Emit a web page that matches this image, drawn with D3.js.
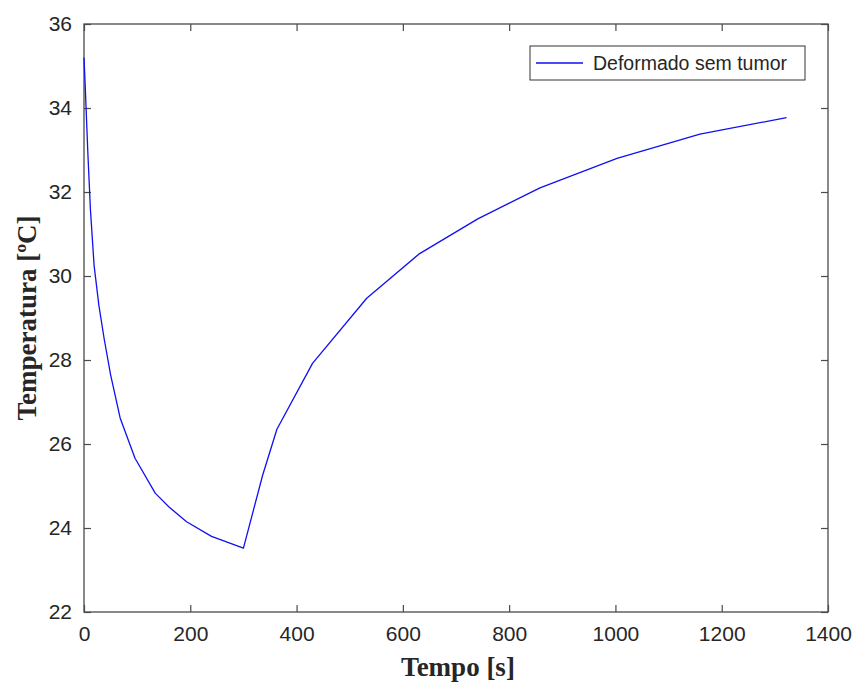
<!DOCTYPE html>
<html>
<head>
<meta charset="utf-8">
<script src="https://cdn.jsdelivr.net/npm/d3@7/dist/d3.min.js"></script>
<style>
  body { margin: 0; background: #fff; }
  svg { display: block; }
</style>
</head>
<body>
<svg id="chart" width="859" height="688"></svg>
<script>
const seriesName = "Deformado sem tumor";
const timeValues = [0, 3, 7, 12, 19, 28, 38, 50, 68, 96, 134, 160, 193, 240, 300,
  336, 363, 430, 532, 630, 741, 858, 1003, 1159, 1322];
const tempValues = [35.2, 34.3, 33.0, 31.6, 30.25, 29.3, 28.5, 27.65, 26.62, 25.66, 24.83, 24.5, 24.15, 23.8, 23.52,
  25.25, 26.35, 27.92, 29.47, 30.52, 31.36, 32.1, 32.8, 33.38, 33.77];
const xTicks = [0, 200, 400, 600, 800, 1000, 1200, 1400];
const yTicks = [22, 24, 26, 28, 30, 32, 34, 36];
const xLabel = "Tempo [s]";
const yLabel = "Temperatura [ºC]";

const svg = d3.select("#chart");
const L = 84, T = 24, R = 828, B = 612;
const x = d3.scaleLinear().domain([0, 1400]).range([L, R]);
const y = d3.scaleLinear().domain([22, 36]).range([B, T]);
const axisColor = "#4a4a4a";
const tickFont = "'Liberation Sans', Arial, sans-serif";

function styleAxis(g) {
  g.select(".domain").remove();
  g.selectAll(".tick line").attr("stroke", axisColor).attr("stroke-width", 1.2);
  g.selectAll(".tick text").attr("fill", "#262626").style("font-family", tickFont).style("font-size", "21px");
}

svg.append("g").attr("transform", `translate(0,${B})`)
  .call(d3.axisBottom(x).tickValues(xTicks).tickSize(-7).tickPadding(14).tickFormat(d3.format("d")))
  .call(styleAxis);
svg.append("g").attr("transform", `translate(0,${T})`)
  .call(d3.axisTop(x).tickValues(xTicks).tickSize(-7).tickFormat(""))
  .call(styleAxis);
svg.append("g").attr("transform", `translate(${L},0)`)
  .call(d3.axisLeft(y).tickValues(yTicks).tickSize(-7).tickPadding(12).tickFormat(d3.format("d")))
  .call(styleAxis);
svg.append("g").attr("transform", `translate(${R},0)`)
  .call(d3.axisRight(y).tickValues(yTicks).tickSize(-7).tickFormat(""))
  .call(styleAxis);

svg.append("rect").attr("x", L).attr("y", T).attr("width", R - L).attr("height", B - T)
  .attr("fill", "none").attr("stroke", axisColor).attr("stroke-width", 1.3);

const data = timeValues.map((t, i) => ({ t, v: tempValues[i] }));
svg.append("path").datum(data)
  .attr("fill", "none").attr("stroke", "#1010f0").attr("stroke-width", 1.3)
  .attr("stroke-linejoin", "round")
  .attr("d", d3.line().x(d => x(d.t)).y(d => y(d.v)));

// legend
const lg = svg.append("g");
lg.append("rect").attr("x", 530).attr("y", 46).attr("width", 275).attr("height", 34)
  .attr("fill", "#fff").attr("stroke", "#333").attr("stroke-width", 1);
lg.append("line").attr("x1", 536).attr("x2", 583).attr("y1", 63).attr("y2", 63)
  .attr("stroke", "#1010f0").attr("stroke-width", 1.3);
lg.append("text").attr("x", 593).attr("y", 63).attr("dy", "0.35em")
  .attr("fill", "#262626").style("font-family", tickFont).style("font-size", "19.5px").text(seriesName);

const labelFont = "'Liberation Serif', 'Times New Roman', serif";
svg.append("text").attr("x", (L + R) / 2 + 2).attr("y", 676).attr("text-anchor", "middle")
  .attr("fill", "#262626").style("font-family", labelFont).style("font-weight", "bold").style("font-size", "27px")
  .text(xLabel);
svg.append("text").attr("transform", `translate(36,${(T + B) / 2}) rotate(-90)`).attr("text-anchor", "middle")
  .attr("fill", "#262626").style("font-family", labelFont).style("font-weight", "bold").style("font-size", "27px")
  .text(yLabel);
</script>
</body>
</html>
